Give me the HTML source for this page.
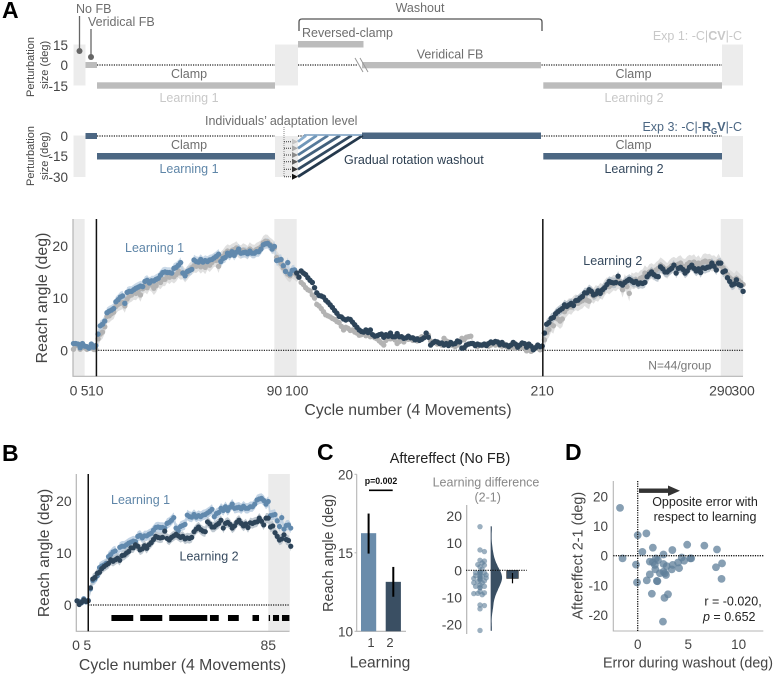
<!DOCTYPE html>
<html lang="en">
<head>
<meta charset="utf-8">
<title>Reach angle adaptation figure</title>
<style>
html,body{margin:0;padding:0;background:#fff;}
svg{display:block;font-family:"Liberation Sans",Arial,sans-serif;}
</style>
</head>
<body>
<svg id="fig" width="774" height="675" viewBox="0 0 774 675" xmlns="http://www.w3.org/2000/svg">
  <rect width="774" height="675" fill="#fff"/>

  <g font-weight="700" font-size="23" fill="#000">
    <text x="2" y="18">A</text>
    <text x="2" y="461">B</text>
    <text x="317" y="460">C</text>
    <text x="565" y="460">D</text>
  </g>

  <g>
    <rect x="73.5" y="44.5" width="12" height="41" fill="#ececec"/>
    <rect x="275" y="44.5" width="23" height="41" fill="#ececec"/>
    <rect x="722" y="44.5" width="21" height="41" fill="#ececec"/>
    <path d="M97 65H275M298 65H357M541.5 65H722" stroke="#222" stroke-width="1.2" stroke-dasharray="1.2 1.2" fill="none"/>
    <rect x="85.5" y="62" width="11.5" height="6" fill="#bcbcbc"/>
    <rect x="97" y="82.3" width="178" height="6.4" fill="#bcbcbc"/>
    <rect x="298" y="41" width="65.5" height="6.5" fill="#bcbcbc"/>
    <rect x="362" y="62" width="179" height="6.3" fill="#bcbcbc"/>
    <rect x="543.3" y="82.3" width="178.7" height="6.4" fill="#bcbcbc"/>
    <path d="M355 58L363 72M360 58L368 72" stroke="#999" stroke-width="1" fill="none"/>
    <path d="M79.5 16V50" stroke="#666" stroke-width="1.3"/>
    <circle cx="79.5" cy="51" r="3" fill="#666"/>
    <path d="M91 29V56" stroke="#666" stroke-width="1.3"/>
    <circle cx="91" cy="57" r="3" fill="#666"/>
    <path d="M299 31V22Q299 19 302 19H539Q542 19 542 22V31" stroke="#555" stroke-width="1.3" fill="none"/>
    <g font-size="12.5" fill="#6e6e6e">
      <text x="76" y="13">No FB</text>
      <text x="88" y="26">Veridical FB</text>
      <text x="420" y="12" text-anchor="middle">Washout</text>
      <text x="302" y="37">Reversed-clamp</text>
      <text x="416.7" y="58.5">Veridical FB</text>
      <text x="189" y="78" text-anchor="middle">Clamp</text>
      <text x="633.5" y="78" text-anchor="middle">Clamp</text>
    </g>
    <g font-size="12.5" fill="#c8c8c8">
      <text x="189" y="102" text-anchor="middle">Learning 1</text>
      <text x="634" y="102" text-anchor="middle">Learning 2</text>
      <text x="742" y="40" text-anchor="end">Exp 1: -C|<tspan font-weight="700">CV</tspan>|-C</text>
    </g>
    <g font-size="13.5" fill="#444" text-anchor="end">
      <text x="68" y="50">15</text>
      <text x="68" y="70">0</text>
      <text x="68" y="91">-15</text>
    </g>
    <g font-size="11" fill="#444" text-anchor="middle">
      <text transform="translate(34 67) rotate(-90)">Perturbation</text>
      <text transform="translate(48 65) rotate(-90)">size (deg)</text>
    </g>
  </g>

  <g>
    <rect x="73.5" y="135.5" width="12" height="41.5" fill="#ececec"/>
    <rect x="275" y="136" width="23" height="41" fill="#ececec"/>
    <rect x="722" y="136" width="21" height="41" fill="#ececec"/>
    <path d="M97 136H275M298 136H306M541.5 136H722" stroke="#222" stroke-width="1.2" stroke-dasharray="1.2 1.2" fill="none"/>
    <rect x="85.5" y="133" width="11.5" height="6" fill="#4c6783"/>
    <rect x="97" y="153" width="178" height="6.5" fill="#4c6783"/>
    <rect x="362" y="132.5" width="179" height="6.5" fill="#4c6783"/>
    <rect x="543.3" y="153" width="178.7" height="6.5" fill="#4c6783"/>
    <g stroke-width="2.8" fill="none">
      <line x1="298" y1="141.7" x2="306" y2="135.5" stroke="#8db0cf"/>
      <line x1="298" y1="148.3" x2="316.7" y2="135.5" stroke="#6f96b8"/>
      <line x1="298" y1="155" x2="328" y2="135.5" stroke="#567a9a"/>
      <line x1="298" y1="161.7" x2="340" y2="135.5" stroke="#42607c"/>
      <line x1="298" y1="169.3" x2="351.7" y2="135.5" stroke="#324a61"/>
      <line x1="298" y1="176.7" x2="362.7" y2="135.5" stroke="#24384c"/>
    </g>
    <rect x="304" y="134.2" width="58" height="1.6" fill="#7fa3c4"/>
    <path d="M284 127V177" stroke="#888" stroke-width="1" stroke-dasharray="1 1" fill="none"/>
    <path d="M284 141.7H293M284 148.3H293M284 155H293M284 161.7H293M284 169.3H293M284 176.7H293" stroke="#333" stroke-width="1" stroke-dasharray="1 1" fill="none"/>
    <g>
      <polygon points="292,138.7 298,141.7 292,144.7" fill="#c4c4c4"/>
      <polygon points="292,145.3 298,148.3 292,151.3" fill="#a8a8a8"/>
      <polygon points="292,152 298,155 292,158" fill="#8a8a8a"/>
      <polygon points="292,158.7 298,161.7 292,164.7" fill="#5e5e5e"/>
      <polygon points="292,166.3 298,169.3 292,172.3" fill="#333"/>
      <polygon points="292,173.7 298,176.7 292,179.7" fill="#111"/>
    </g>
    <g font-size="12.5" fill="#6e6e6e">
      <text x="189" y="149" text-anchor="middle">Clamp</text>
      <text x="633.5" y="149" text-anchor="middle">Clamp</text>
      <text x="205" y="125">Individuals’ adaptation level</text>
    </g>
    <text x="189" y="173" text-anchor="middle" font-size="12.5" fill="#5f86a8">Learning 1</text>
    <text x="634" y="173" text-anchor="middle" font-size="12.5" fill="#35495e">Learning 2</text>
    <text x="344" y="164" font-size="12.5" fill="#2c3e50">Gradual rotation washout</text>
    <text x="742" y="131" text-anchor="end" font-size="12.5" fill="#4c6783">Exp 3: -C|-<tspan font-weight="700">R</tspan><tspan font-weight="700" font-size="8" dy="3">G</tspan><tspan font-weight="700" dy="-3">V</tspan>|-C</text>
    <g font-size="13.5" fill="#444" text-anchor="end">
      <text x="68" y="141">0</text>
      <text x="68" y="161">-15</text>
      <text x="68" y="182">-30</text>
    </g>
    <g font-size="11" fill="#444" text-anchor="middle">
      <text transform="translate(34 156) rotate(-90)">Perturbation</text>
      <text transform="translate(48 156) rotate(-90)">size (deg)</text>
    </g>
  </g>

  <g id="main-chart">
    <text x="408" y="415" text-anchor="middle" font-size="15.8" fill="#444">Cycle number (4 Movements)</text>
    <text transform="translate(47 298) rotate(-90)" text-anchor="middle" font-size="15.9" fill="#444">Reach angle (deg)</text>
  </g>
  <text x="125" y="252" font-size="12.5" fill="#5f86a8">Learning 1</text>
  <text x="583.3" y="265" font-size="12.5" fill="#35495e">Learning 2</text>
  <text x="648.3" y="369.3" font-size="12" fill="#777">N=44/group</text>

  <g id="b-chart">
    <text x="182.5" y="670" text-anchor="middle" font-size="15.8" fill="#444">Cycle number (4 Movements)</text>
    <text transform="translate(49 553) rotate(-90)" text-anchor="middle" font-size="15.6" fill="#444">Reach angle (deg)</text>
  </g>
  <text x="111" y="504" font-size="12.5" fill="#5f86a8">Learning 1</text>
  <text x="179.5" y="560.7" font-size="12.5" fill="#35495e">Learning 2</text>

  <g id="c-bars">
    <text x="450" y="463" text-anchor="middle" font-size="14.5" fill="#222">Aftereffect (No FB)</text>
    <text transform="translate(333 553) rotate(-90)" text-anchor="middle" font-size="14.3" fill="#444">Reach angle (deg)</text>
    <text x="380" y="667.7" text-anchor="middle" font-size="15.6" fill="#444">Learning</text>
    <path d="M369 490.3H392.7" stroke="#000" stroke-width="1.6"/>
    <text x="381" y="484" text-anchor="middle" font-size="8.8" font-weight="700" fill="#111">p=0.002</text>
  </g>

  <g id="c-diff">
    <text x="486" y="486.7" text-anchor="middle" font-size="12.5" fill="#888">Learning difference</text>
    <text x="487.7" y="501.7" text-anchor="middle" font-size="12.5" fill="#888">(2-1)</text>
  </g>

  <g id="d-chart">
    <text x="688" y="667.7" text-anchor="middle" font-size="14.3" fill="#444">Error during washout (deg)</text>
    <text transform="translate(582.3 555.7) rotate(-90)" text-anchor="middle" font-size="14.4" fill="#444">Aftereffect 2-1 (deg)</text>
  </g>
  <g>
    <rect x="639" y="488.5" width="30" height="4.4" fill="#333"/>
    <polygon points="668,485.5 680,490.7 668,496" fill="#333"/>
  </g>
  <g font-size="12.5" fill="#222">
    <text x="705" y="506" text-anchor="middle">Opposite error with</text>
    <text x="705" y="521" text-anchor="middle">respect to learning</text>
    <text x="761.7" y="605.7" text-anchor="end">r = -0.020,</text>
    <text x="703" y="621"><tspan font-style="italic">p</tspan> = 0.652</text>
  </g>

<script>
// ---------- Panel A / B time-series data (deg) ----------
const exp3ReachAngle = [
1.3,1.3,1.2,0.5,1.3,0.8,0.7,0.4,1.2,0.6,0.9,
3.1,4.7,5.0,5.6,7.2,7.5,7.7,8.0,9.3,9.7,
10.2,10.4,9.0,11.1,11.3,11.3,11.6,11.9,12.1,12.3,
12.2,13.2,13.4,12.9,13.3,13.3,13.6,13.8,14.4,14.9,
15.0,14.9,14.9,14.8,15.7,15.9,16.3,16.8,14.8,14.3,
15.1,15.3,15.5,17.3,17.0,16.9,17.4,16.9,17.2,17.0,
17.3,17.4,17.7,18.0,18.4,17.0,17.6,17.8,18.6,18.2,
18.9,18.2,18.8,19.4,18.6,18.7,18.8,18.5,19.0,18.6,
18.6,18.9,18.9,19.4,20.2,20.4,20.5,20.1,19.4,19.9,
17.2,17.3,17.4,16.2,15.1,16.8,14.6,15.3,15.4,14.8,
14.0,15.2,14.8,14.5,13.9,13.4,13.0,12.0,
11.0,10.5,10.4,10.2,9.6,9.2,8.7,8.2,7.6,7.1,
6.5,6.4,6.0,5.8,6.0,5.9,5.4,4.9,4.4,3.9,
3.6,3.5,3.9,3.4,3.9,3.0,2.7,2.8,3.0,3.1,
2.5,3.0,2.7,3.3,2.6,2.6,3.2,2.6,2.6,2.3,
2.4,2.7,2.4,2.4,2.0,2.2,1.9,2.1,2.4,3.3,
2.5,1.0,1.4,1.7,1.6,1.3,1.4,1.0,1.3,0.9,
1.5,1.2,1.3,1.8,1.6,0.4,0.5,1.0,1.2,1.3,
1.3,0.9,1.2,1.0,1.0,1.2,0.9,1.3,1.6,1.4,
1.7,1.6,1.1,1.5,1.0,1.0,0.7,1.0,1.5,1.2,
0.6,1.0,1.4,1.3,0.6,1.2,0.8,0.1,0.5,1.0,
0.7,0.8,
3.3,5.0,5.3,6.1,6.3,7.0,7.4,7.7,8.0,8.7,
8.4,8.7,9.0,8.6,9.5,9.6,10.0,10.3,11.0,11.0,
11.6,11.3,10.6,10.8,11.4,10.9,11.6,12.0,12.6,13.2,
13.0,12.9,13.0,14.2,12.8,12.5,13.0,13.3,13.6,13.3,
13.0,13.2,12.7,12.9,12.8,13.0,14.1,14.6,15.0,14.5,
14.2,14.1,16.0,15.6,15.0,15.0,15.4,15.7,16.3,14.8,
15.7,15.9,15.5,14.8,15.2,15.9,16.3,15.7,15.2,15.6,
14.9,15.8,15.7,15.9,16.0,16.7,16.1,15.4,16.7,16.7,
15.0,15.2,13.9,13.2,12.5,12.7,13.5,12.6,12.4,11.3];

const exp1ReachAngle = [
0.2,0.9,1.0,0.2,1.0,0.5,0.2,0.4,0.8,0.2,0.2,
2.2,3.1,3.5,4.5,6.5,6.6,7.0,7.3,8.4,8.8,
9.0,9.2,8.5,9.8,10.4,10.6,11.0,10.9,11.4,10.6,
11.8,12.4,12.0,12.8,12.5,11.9,12.4,13.3,13.0,13.6,
13.6,14.3,14.0,14.4,14.1,14.5,15.2,14.8,14.9,14.3,
14.8,15.4,15.8,16.2,16.1,16.5,16.0,16.4,15.9,16.7,
16.3,16.8,17.3,17.2,16.1,17.6,18.0,18.6,19.0,18.8,
19.1,19.3,19.6,19.0,18.8,19.2,19.0,18.7,19.4,19.0,
18.9,19.3,19.5,19.8,20.6,20.9,20.8,20.3,20.0,19.6,
17.8,17.2,16.6,15.8,15.2,14.6,14.3,15.0,14.8,14.4,
14.0,13.0,12.6,12.0,11.6,11.4,10.6,10.0,8.8,8.5,
8.0,7.4,6.8,6.6,6.4,6.1,5.9,5.5,5.3,4.6,
3.9,4.4,4.2,3.8,3.9,3.5,3.3,2.9,3.0,3.2,
2.8,3.0,2.6,2.7,2.4,2.2,1.8,1.4,1.0,1.9,
2.4,2.2,2.3,2.0,1.3,1.7,2.2,1.6,2.3,2.1,
2.3,1.9,2.2,1.8,2.3,2.6,2.4,2.9,2.9,1.8,
1.5,1.7,1.2,1.4,1.0,2.3,1.8,1.6,1.2,0.9,
0.7,1.0,1.6,2.3,2.0,2.5,2.6,2.7,1.3,0.9,
0.7,1.1,0.9,1.0,1.2,0.8,1.0,1.3,1.0,1.2,
0.9,0.8,1.2,0.7,0.4,0.9,0.6,0.4,0.5,0.6,
0.8,0.4,-0.1,0.3,-0.2,0.2,0.6,0.4,0.1,0.2,
2.0,3.4,4.0,5.0,4.7,6.2,6.0,5.6,6.0,7.4,
8.0,8.5,8.3,8.9,9.2,9.0,9.3,9.5,10.0,9.6,
9.4,10.8,10.4,11.0,10.8,11.4,11.2,12.0,12.5,12.2,
12.6,13.0,12.8,13.3,13.0,11.6,13.1,12.2,10.9,13.4,
13.2,13.5,13.3,13.8,14.0,14.8,14.3,15.0,15.2,14.9,
15.4,15.7,16.3,16.0,15.6,15.2,15.8,16.2,16.4,16.1,
16.5,16.7,16.1,16.0,16.5,16.8,16.6,16.9,16.3,16.7,
16.1,16.9,17.1,16.9,17.0,16.6,16.7,16.3,17.0,16.2,
15.8,15.0,14.5,13.9,13.6,13.2,13.8,13.4,13.0,12.6];

const semPhaseEnds = [10,100,210,300];
const semExp3 = [0.5,1.0,0.4,1.0];
const semExp1 = [0.6,1.3,0.5,1.5];

const mainXTicks = [0,5,10,90,100,210,290,300];
const mainXLabels = ["0","5","10","90","100","210","290","300"];
const mainYTicks = [0,10,20];
const mainYLabels = ["0","10","20"];

const bXTicks = [0,5,85];
const bXLabels = ["0","5","85"];
const bYTicks = [0,10,20];
const bYLabels = ["0","10","20"];
const clusterStarts = [15.3,28.1,41,59.1,67.1,78,85.2,87.1,91.1];
const clusterEnds = [25,37.9,57.9,63,71.9,80.9,85.8,89.8,94.4];

// ---------- Panel C data ----------
const barLabels = ["1","2"];
const barMeans = [16.25,13.15];
const barErrLow = [14.95,12.2];
const barErrHigh = [17.5,14.1];
const cYTicks = [10,15,20];
const cYLabels = ["10","15","20"];
const diffYTicks = [20,10,0,-10,-20];
const diffYLabels = ["20","10","0","-10","-20"];
const diffMean = -3.0;
const diffErrLow = -4.8;
const diffErrHigh = -1.0;

// ---------- Panel D data ----------
const errorWashout = [-1.75,-1.5,0,0.86,0.46,-0.17,-0.07,1.5,0.9,1.2,1.4,1.9,1.95,2.5,2.65,3,1.5,1.8,1.75,2.2,2.55,2.55,2.7,2.8,2.55,2.87,3.37,3.47,3.43,4.1,4,4.36,4.6,4.9,5.2,5.3,6.6,7.85,7.75,8.35,8.3,1.2,2,1.7];
const aftereffectDiff = [16.1,-0.9,6.9,7.5,1.3,-3,-9,2.7,-8.3,-6.3,-12.8,-8.5,-8.6,-22.2,-14.2,-13,-2.2,-0.9,-4.6,-5.9,0.4,-2.8,-5.9,-6.5,-5.4,-3.5,-4.6,-3.1,1.9,-4.2,-2.3,-0.6,-1.7,3.7,-0.9,-0.9,3.4,2.1,-3.9,-2.6,-7.8,-2,-1.5,-3.1];
const dXTicks = [0,5,10];
const dXLabels = ["0","5","10"];
const dYTicks = [20,10,0,-10,-20];
const dYLabels = ["20","10","0","-10","-20"];

// ---------- Scales ----------
const xMain = c => 73.5 + 2.232 * c;
const yMain = v => 350.3 - 5.22 * v;
const xB = c => 77 + 2.25 * c;
const yB = v => 605 - 5.2 * v;
const yC = v => 631.3 - 15.7 * (v - 10);
const yDiff = v => 570.3 - 2.71 * v;
const xD = v => 637.7 + 10.1 * v;
const yD = v => 555.7 - 2.97 * v;

const NS = "http://www.w3.org/2000/svg";
function el(tag, attrs, parent) {
  const e = document.createElementNS(NS, tag);
  for (const k in attrs) e.setAttribute(k, attrs[k]);
  parent.appendChild(e);
  return e;
}
function semAt(arr, c) {
  for (let i = 0; i < semPhaseEnds.length; i++) if (c <= semPhaseEnds[i]) return arr[i];
  return arr[arr.length - 1];
}
function bandPath(values, offset, semArr, sx, sy) {
  const up = [], down = [];
  values.forEach((v, i) => {
    const s = semAt(semArr, i + offset);
    up.push(sx(i) + "," + sy(v + s).toFixed(1));
    down.unshift(sx(i) + "," + sy(v - s).toFixed(1));
  });
  return up.concat(down).join(" ");
}
function drawText(parent, x, y, txt, anchor, size, name) {
  const t = el("text", {x: x, y: y, "text-anchor": anchor, "font-size": size, fill: "#444"}, parent);
  t.textContent = txt;
  
  
  return t;
}

// ---------- Main chart ----------
(function () {
  const g = document.getElementById("main-chart");
  [[0,5],[90,100],[290,300]].forEach(function (r) {
    const b = el("rect", {x: xMain(r[0]), y: 219, width: xMain(r[1]) - xMain(r[0]), height: 157.3, fill: "#ebebeb"}, g);
    
    
  });
  const gb = el("polygon", {points: bandPath(exp1ReachAngle, 0, semExp1, xMain, yMain), fill: "#d6d6d6", "fill-opacity": 0.75}, g);
  
  
  const blue = exp3ReachAngle.slice(0, 100);
  const bb = el("polygon", {points: bandPath(blue, 0, semExp3, xMain, yMain), fill: "#b9cde0", "fill-opacity": 0.75}, g);
  
  
  const dark = exp3ReachAngle.slice(100);
  const db = el("polygon", {points: bandPath(dark, 100, semExp3, c => xMain(c + 100), yMain), fill: "#aeb9c4", "fill-opacity": 0.75}, g);
  
  

  const ax = el("path", {d: "M73 219V376.3H743", stroke: "#b5b5b5", "stroke-width": 1.2, fill: "none"}, g);
  
  
  const z = el("path", {d: "M" + xMain(10) + " " + yMain(0) + "H743", stroke: "#111", "stroke-width": 1.2, "stroke-dasharray": "1.2 1.2", fill: "none"}, g);
  
  

  exp1ReachAngle.forEach(function (v, i) {
    const c = el("circle", {cx: xMain(i), cy: yMain(v), r: 2.7, fill: "#b3b3b3"}, g);
    
    
  });
  exp3ReachAngle.forEach(function (v, i) {
    const c = el("circle", {cx: xMain(i), cy: yMain(v), r: 2.7, fill: i < 100 ? "#6189ad" : "#2d4459"}, g);
    
    
  });

  [10, 210].forEach(function (c) {
    const l = el("line", {x1: xMain(c) + 0.6, x2: xMain(c) + 0.6, y1: 219, y2: 376.3, stroke: "#111", "stroke-width": 1.5}, g);
    
    
  });
  mainXTicks.forEach(function (c, i) {
    drawText(g, xMain(c), 395.6, mainXLabels[i], "middle", 14, "x-tick-label");
  });
  mainYTicks.forEach(function (v, i) {
    drawText(g, 68, yMain(v) + 5, mainYLabels[i], "end", 14, "y-tick-label");
  });
})();

// ---------- Panel B ----------
const bLearning1 = exp3ReachAngle.slice(5, 101);
const bLearning2 = exp3ReachAngle.slice(205, 301);
(function () {
  const g = document.getElementById("b-chart");
  const band = el("rect", {x: xB(85), y: 474, width: xB(94.6) - xB(85), height: 157.3, fill: "#ebebeb"}, g);
  
  
  const b1 = el("polygon", {points: bandPath(bLearning1, 5, semExp3, xB, yB), fill: "#b9cde0", "fill-opacity": 0.85}, g);
  
  
  const b2 = el("polygon", {points: bandPath(bLearning2, 205, semExp3, xB, yB), fill: "#b5bfc9", "fill-opacity": 0.85}, g);
  
  
  const ax = el("path", {d: "M76.3 474V631.3H289.5", stroke: "#b5b5b5", "stroke-width": 1.2, fill: "none"}, g);
  
  
  const z = el("path", {d: "M" + xB(5) + " " + yB(0) + "H289.5", stroke: "#111", "stroke-width": 1.2, "stroke-dasharray": "1.2 1.2", fill: "none"}, g);
  
  
  bLearning1.forEach(function (v, i) {
    const c = el("circle", {cx: xB(i), cy: yB(v), r: 2.6, fill: "#6189ad"}, g);
    
    
  });
  bLearning2.forEach(function (v, i) {
    const c = el("circle", {cx: xB(i), cy: yB(v), r: 2.6, fill: "#2d4459"}, g);
    
    
  });
  const vl = el("line", {x1: xB(5), x2: xB(5), y1: 474, y2: 631.3, stroke: "#111", "stroke-width": 1.5}, g);
  
  
  clusterStarts.forEach(function (s, i) {
    const r = el("rect", {x: xB(s), y: 615, width: xB(clusterEnds[i]) - xB(s), height: 6, fill: "#000"}, g);
    
    
  });
  bXTicks.forEach(function (c, i) {
    drawText(g, xB(c) + (c === 0 ? -1 : c === 5 ? -1 : 0), 650, bXLabels[i], "middle", 14, "x-tick-label");
  });
  bYTicks.forEach(function (v, i) {
    drawText(g, 71.7, yB(v) + 5, bYLabels[i], "end", 14, "y-tick-label");
  });
})();

// ---------- Panel C bars ----------
(function () {
  const g = document.getElementById("c-bars");
  const colors = ["#6a8cab", "#3a4f63"];
  const barLeft = [361, 385.7];
  const ax = el("path", {d: "M356.7 474.3V631.3H406", stroke: "#b5b5b5", "stroke-width": 1.1, fill: "none"}, g);
  
  
  barMeans.forEach(function (m, i) {
    const r = el("rect", {x: barLeft[i], y: yC(m), width: 15.2, height: yC(10) - yC(m), fill: colors[i]}, g);
    
    
    const cx = barLeft[i] + 7.6;
    const e = el("line", {x1: cx, x2: cx, y1: yC(barErrHigh[i]), y2: yC(barErrLow[i]), stroke: "#000", "stroke-width": 2}, g);
    
    
  });
  drawText(g, 371, 647, barLabels[0], "middle", 13, "x-tick-label");
  drawText(g, 390, 647, barLabels[1], "middle", 13, "x-tick-label");
  cYTicks.forEach(function (v, i) {
    const t = el("line", {x1: 354.5, x2: 356.7, y1: yC(v), y2: yC(v), stroke: "#b5b5b5", "stroke-width": 1}, g);
    
    
    drawText(g, 353, yC(v) + 5, cYLabels[i], "end", 13.5, "y-tick-label");
  });
})();

// ---------- Panel C difference plot ----------
(function () {
  const g = document.getElementById("c-diff");
  const ax = el("line", {x1: 466.7, x2: 466.7, y1: 505, y2: 634, stroke: "#b5b5b5", "stroke-width": 1.2}, g);
  
  
  const placed = [];
  const order = aftereffectDiff.slice().sort((a, b) => b - a);
  order.forEach(function (v) {
    const y = yDiff(v);
    let off = 0;
    const cand = [0, 2.2, -2.2, 4.4, -4.4, 6.2, -6.2];
    for (let k = 0; k < cand.length; k++) {
      if (!placed.some(p => Math.hypot(p[0] - cand[k], p[1] - y) < 2.8)) { off = cand[k]; break; }
    }
    placed.push([off, y]);
    const c = el("circle", {cx: 480 + off, cy: y, r: 2.7, fill: "#5f7f9a", "fill-opacity": 0.62}, g);
    
    
  });
  // density estimate from the same difference values
  const lo = Math.min.apply(null, aftereffectDiff), hi = Math.max.apply(null, aftereffectDiff);
  const pts = [];
  let peak = 0;
  for (let k = 0; k <= 60; k++) {
    const v = lo + (hi - lo) * k / 60;
    let d = 0;
    aftereffectDiff.forEach(function (a) { d += Math.exp(-0.5 * Math.pow((v - a) / 2.4, 2)); });
    peak = Math.max(peak, d);
    pts.push([v, d]);
  }
  const poly = ["491," + yDiff(lo)];
  pts.forEach(function (p) { poly.push((491 + 10.7 * p[1] / peak).toFixed(1) + "," + yDiff(p[0]).toFixed(1)); });
  poly.push("491," + yDiff(hi));
  const v1 = el("polygon", {points: poly.join(" "), fill: "#3a4f63", stroke: "#3a4f63", "stroke-width": 0.7}, g);
  
  
  const r = el("rect", {x: 506.7, y: yDiff(0), width: 11.6, height: yDiff(diffMean) - yDiff(0), fill: "#3a4f63", stroke: "#222", "stroke-width": 0.6}, g);
  
  
  const er = el("line", {x1: 512.5, x2: 512.5, y1: yDiff(diffErrHigh), y2: yDiff(diffErrLow), stroke: "#000", "stroke-width": 1.2}, g);
  
  
  const z = el("path", {d: "M466 " + yDiff(0) + "H526.7", stroke: "#111", "stroke-width": 1.2, "stroke-dasharray": "1.2 1.2", fill: "none"}, g);
  
  
  diffYTicks.forEach(function (v, i) {
    drawText(g, 462, yDiff(v) + 5, diffYLabels[i], "end", 14, "y-tick-label");
  });
})();

// ---------- Panel D ----------
(function () {
  const g = document.getElementById("d-chart");
  const ax = el("path", {d: "M613.3 481V631H763.3", stroke: "#b5b5b5", "stroke-width": 1.1, fill: "none"}, g);
  
  
  errorWashout.forEach(function (v, i) {
    const c = el("circle", {cx: xD(v), cy: yD(aftereffectDiff[i]), r: 3.9, fill: "#5f7f9a", "fill-opacity": 0.75}, g);
    
    
  });
  const z = el("path", {d: "M613.3 " + yD(0) + "H763.3M" + xD(0) + " 481V631", stroke: "#111", "stroke-width": 1.3, "stroke-dasharray": "1.2 1.2", fill: "none"}, g);
  
  
  dXTicks.forEach(function (v, i) {
    drawText(g, xD(v), 649, dXLabels[i], "middle", 13.5, "x-tick-label");
  });
  dYTicks.forEach(function (v, i) {
    drawText(g, 608, yD(v) + 5, dYLabels[i], "end", 13.5, "y-tick-label");
  });
})();
</script>
</svg>
</body>
</html>
